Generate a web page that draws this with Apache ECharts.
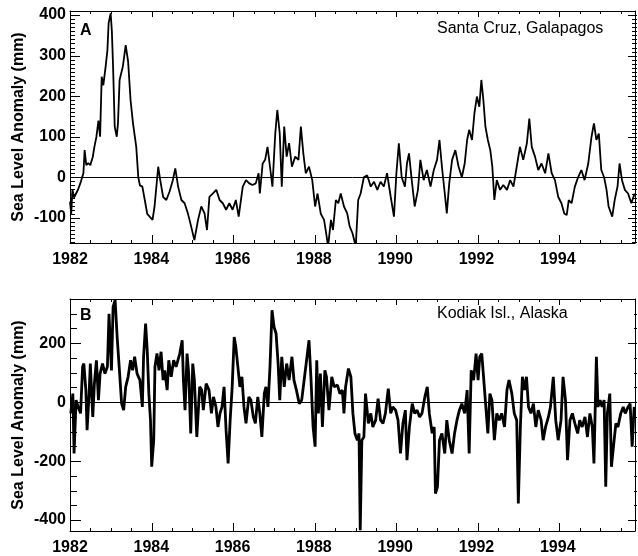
<!DOCTYPE html>
<html>
<head>
<meta charset="utf-8">
<script src="https://cdn.jsdelivr.net/npm/echarts@6/dist/echarts.min.js"></script>
<style>
  html, body { margin: 0; padding: 0; background: #fff; }
  #chart { width: 638px; height: 556px; }
</style>
</head>
<body>
<div id="chart"></div>
<script>
// Santa Cruz, Galapagos sea level anomaly (mm)
const galapagosYears = [
  1982.00,1982.03,1982.06,1982.10,1982.15,1982.20,1982.27,1982.33,1982.36,1982.40,
  1982.45,1982.50,1982.56,1982.60,1982.65,1982.70,1982.74,1982.78,1982.82,1982.88,
  1982.92,1982.95,1983.00,1983.03,1983.06,1983.10,1983.15,1983.18,1983.22,1983.30,
  1983.37,1983.43,1983.49,1983.55,1983.63,1983.68,1983.72,1983.78,1983.84,1983.90,
  1983.96,1984.03,1984.08,1984.17,1984.22,1984.29,1984.37,1984.45,1984.53,1984.59,
  1984.66,1984.74,1984.82,1984.90,1984.98,1985.06,1985.15,1985.23,1985.31,1985.37,
  1985.43,1985.51,1985.60,1985.68,1985.76,1985.84,1985.92,1986.00,1986.08,1986.15,
  1986.25,1986.33,1986.41,1986.49,1986.57,1986.64,1986.67,1986.74,1986.80,1986.86,
  1986.92,1986.98,1987.05,1987.10,1987.16,1987.21,1987.27,1987.33,1987.39,1987.46,
  1987.54,1987.62,1987.68,1987.74,1987.80,1987.88,1987.96,1988.03,1988.09,1988.17,
  1988.25,1988.29,1988.35,1988.42,1988.47,1988.54,1988.60,1988.66,1988.74,1988.82,
  1988.88,1988.95,1989.03,1989.09,1989.15,1989.23,1989.31,1989.40,1989.48,1989.56,
  1989.64,1989.72,1989.80,1989.89,1989.97,1990.03,1990.09,1990.16,1990.24,1990.29,
  1990.34,1990.40,1990.48,1990.56,1990.62,1990.70,1990.78,1990.87,1990.95,1991.03,
  1991.09,1991.15,1991.22,1991.27,1991.33,1991.40,1991.48,1991.56,1991.64,1991.71,
  1991.77,1991.82,1991.89,1991.95,1992.01,1992.07,1992.12,1992.17,1992.22,1992.28,
  1992.34,1992.39,1992.44,1992.50,1992.58,1992.66,1992.75,1992.83,1992.91,1992.99,
  1993.07,1993.15,1993.24,1993.30,1993.36,1993.44,1993.52,1993.60,1993.69,1993.77,
  1993.85,1993.93,1994.01,1994.09,1994.16,1994.22,1994.27,1994.34,1994.42,1994.50,
  1994.58,1994.66,1994.75,1994.83,1994.89,1994.95,1995.01,1995.07,1995.14,1995.20,
  1995.25,1995.34,1995.40,1995.47,1995.52,1995.58,1995.65,1995.73,1995.81,1995.89
];
const galapagosValues = [
  -60,-90,-30,-50,-40,-30,-10,10,67,30,
  35,30,50,75,100,140,100,248,227,276,
  313,380,404,360,272,125,100,133,240,273,
  326,285,190,133,75,0,-20,-23,-56,-90,
  -97,-105,-72,26,-7,-48,-56,-35,-7,22,
  -23,-56,-64,-89,-121,-155,-105,-72,-89,-130,
  -48,-40,-31,-56,-64,-80,-64,-80,-56,-97,
  -23,-7,-15,-19,-15,10,-40,34,43,75,
  26,-23,108,166,108,-23,125,51,84,26,
  51,43,125,59,10,26,-7,-72,-40,-90,
  -105,-130,-170,-105,-130,-56,-64,-40,-72,-89,
  -121,-138,-170,-56,-40,0,5,-23,-11,-31,
  -11,-23,10,-48,-97,10,84,0,-23,34,
  59,0,-72,-31,43,-7,18,-23,18,43,
  92,26,-40,-89,-15,43,67,26,0,34,
  92,117,92,158,199,174,240,190,125,92,
  67,26,-56,-7,-31,-19,-31,-7,-23,26,
  75,43,84,145,75,51,18,34,10,59,
  10,-7,-48,-64,-89,-93,-56,-64,-23,0,
  18,-7,34,100,133,92,108,18,0,-31,
  -72,-97,-56,-23,34,-7,-31,-40,-64,-40
];

// Kodiak Isl., Alaska sea level anomaly (mm)
const kodiakYears = [
  1982.02,1982.07,1982.10,1982.15,1982.20,1982.26,1982.31,1982.34,1982.39,1982.42,
  1982.47,1982.50,1982.56,1982.60,1982.65,1982.70,1982.74,1982.80,1982.86,1982.92,
  1982.96,1983.02,1983.06,1983.11,1983.16,1983.21,1983.27,1983.32,1983.37,1983.43,
  1983.49,1983.54,1983.59,1983.65,1983.72,1983.78,1983.81,1983.86,1983.90,1983.94,
  1983.98,1984.01,1984.06,1984.09,1984.14,1984.19,1984.24,1984.29,1984.33,1984.39,
  1984.43,1984.49,1984.55,1984.61,1984.70,1984.76,1984.79,1984.83,1984.88,1984.92,
  1984.97,1985.02,1985.06,1985.12,1985.19,1985.24,1985.28,1985.35,1985.42,1985.48,
  1985.53,1985.59,1985.64,1985.69,1985.74,1985.79,1985.84,1985.89,1985.94,1985.99,
  1986.04,1986.08,1986.13,1986.18,1986.23,1986.28,1986.33,1986.40,1986.45,1986.51,
  1986.56,1986.62,1986.67,1986.72,1986.78,1986.82,1986.87,1986.92,1986.97,1987.02,
  1987.07,1987.12,1987.16,1987.21,1987.27,1987.33,1987.39,1987.46,1987.51,1987.57,
  1987.64,1987.70,1987.76,1987.82,1987.88,1987.93,1987.98,1988.03,1988.07,1988.11,
  1988.16,1988.21,1988.27,1988.31,1988.37,1988.44,1988.50,1988.58,1988.64,1988.70,
  1988.74,1988.78,1988.85,1988.91,1988.96,1989.01,1989.07,1989.11,1989.14,1989.18,
  1989.23,1989.27,1989.34,1989.40,1989.45,1989.52,1989.58,1989.64,1989.70,1989.76,
  1989.83,1989.89,1989.94,1990.01,1990.07,1990.13,1990.19,1990.25,1990.29,1990.35,
  1990.42,1990.48,1990.54,1990.60,1990.66,1990.73,1990.79,1990.84,1990.91,1990.96,
  1990.99,1991.04,1991.09,1991.15,1991.22,1991.27,1991.33,1991.40,1991.46,1991.52,
  1991.58,1991.64,1991.71,1991.77,1991.82,1991.87,1991.93,1991.99,1992.04,1992.08,
  1992.13,1992.18,1992.23,1992.28,1992.33,1992.38,1992.44,1992.50,1992.56,1992.62,
  1992.69,1992.75,1992.80,1992.87,1992.93,1992.99,1993.03,1993.08,1993.13,1993.18,
  1993.23,1993.28,1993.34,1993.40,1993.46,1993.52,1993.59,1993.64,1993.70,1993.77,
  1993.82,1993.89,1993.95,1994.01,1994.08,1994.13,1994.19,1994.24,1994.30,1994.36,
  1994.42,1994.49,1994.54,1994.60,1994.67,1994.73,1994.79,1994.85,1994.89,1994.95,
  1994.99,1995.04,1995.09,1995.14,1995.18,1995.22,1995.28,1995.32,1995.37,1995.43,
  1995.48,1995.55,1995.61,1995.66,1995.73,1995.78,1995.83,1995.88
];
const kodiakValues = [
  -38,29,-174,7,-16,-38,120,131,41,-95,
  29,131,-50,63,142,7,97,131,97,120,
  300,108,323,346,221,120,-5,-27,52,86,
  142,108,154,97,75,-16,154,267,176,29,
  -61,-219,-129,120,165,108,171,75,108,41,
  142,86,142,120,165,210,75,-27,165,97,
  -106,131,75,-118,52,41,-27,63,41,-38,
  18,-16,-84,-38,-16,52,-95,-208,-61,52,
  221,187,120,52,86,-16,-72,18,7,-50,
  -72,18,-38,-118,29,52,-16,120,312,255,
  233,131,7,154,52,131,75,154,75,41,
  -5,7,75,142,210,75,-84,-151,142,-38,
  97,-84,108,86,-27,86,52,58,29,41,
  -38,52,114,86,-38,-106,-129,-106,-434,-129,
  -118,29,-72,-38,-84,-61,12,-61,-72,-38,
  46,-38,-16,-27,-61,-174,-72,-27,-197,-84,
  -5,-38,-27,-50,-38,18,52,-38,-106,-84,
  -310,-287,-129,-106,-174,-61,-129,-174,-106,-61,
  -27,-5,-38,41,-174,108,75,165,75,154,
  165,75,-16,-106,29,7,-129,-38,-61,-38,
  -84,41,75,29,-38,-61,-344,-84,86,41,
  86,-16,-38,-5,-84,-27,-61,-129,-84,-50,
  -16,86,-61,-129,-61,86,7,-197,-61,-38,
  -72,-106,-61,-84,-50,-118,-38,-84,-208,154,
  -16,7,-16,7,-287,-38,29,-219,-151,-72,
  -84,-38,-16,-38,-16,-5,-151,-16
];

// Tick labels
const yearLabels = [1982, 1984, 1986, 1988, 1990, 1992, 1994];
const galapagosLabels = [-100, 0, 100, 200, 300, 400];
const kodiakLabels = [-400, -200, 0, 200];

const X_MIN = 1982, X_MAX = 1995.9;
const FONT = 'Liberation Sans, Arial, Helvetica, sans-serif';
const LEFT = 70, WIDTH = 567;

function lineStyle() { return { color: '#000', width: 1 }; }
function range(a, b, step) {
  const out = [];
  for (let v = a; v <= b + 1e-9; v += step) out.push(Math.round(v * 1000) / 1000);
  return out;
}

// Panel layout: value range, pixel box, label spacing and tick lengths
const panels = [
  { min: -162, max: 410, top: 11, height: 232,
    labels: galapagosLabels, labelStep: 100,
    minorStep: 10, majorLen: [10, 9], minorLen: [5, 5] },
  { min: -437, max: 350, top: 299, height: 232,
    labels: kodiakLabels, labelStep: 200,
    minorStep: 50, majorLen: [11, 9], minorLen: [7, 3] }
];

const grids = [], xAxes = [], yAxes = [], mainIdx = [];

panels.forEach(p => {
  const gMain = grids.length;
  grids.push({ left: LEFT, width: WIDTH, top: p.top, height: p.height });
  // helper grid spanning exactly the labelled range, so labels start at a round value
  const s = p.height / (p.max - p.min);
  const lo = p.labels[0], hi = p.labels[p.labels.length - 1];
  const gLab = grids.length;
  grids.push({ left: LEFT, width: WIDTH, top: p.top + (p.max - hi) * s, height: (hi - lo) * s });

  const xMain = xAxes.length;
  xAxes.push({ type: 'value', gridIndex: gMain, min: X_MIN, max: X_MAX, interval: 2, position: 'bottom',
    splitLine: { show: false },
    axisLine: { show: true, onZero: false, lineStyle: lineStyle() },
    axisTick: { show: false },
    axisLabel: { show: true, margin: 9, color: '#000', fontSize: 16, fontWeight: 'bold', fontFamily: FONT,
      formatter: v => yearLabels.indexOf(Math.round(v * 100) / 100) >= 0 ? String(Math.round(v)) : '' } });
  xAxes.push({ type: 'value', gridIndex: gMain, min: X_MIN, max: X_MAX, position: 'top',
    splitLine: { show: false },
    axisLine: { show: true, onZero: false, lineStyle: lineStyle() },
    axisTick: { show: false }, axisLabel: { show: false } });
  xAxes.push({ type: 'value', gridIndex: gLab, min: 0, max: 1, show: false });

  const yMain = yAxes.length;
  yAxes.push({ type: 'value', gridIndex: gMain, min: p.min, max: p.max, position: 'left',
    name: 'Sea Level Anomaly (mm)', nameLocation: 'middle', nameGap: 43, nameRotate: 90,
    nameTextStyle: { color: '#000', fontSize: 16, fontWeight: 'bold', fontFamily: FONT },
    splitLine: { show: false },
    axisLine: { show: true, onZero: false, lineStyle: lineStyle() },
    axisTick: { show: false }, axisLabel: { show: false } });
  yAxes.push({ type: 'value', gridIndex: gMain, min: p.min, max: p.max, position: 'right',
    splitLine: { show: false },
    axisLine: { show: true, onZero: false, lineStyle: lineStyle() },
    axisTick: { show: false }, axisLabel: { show: false } });
  yAxes.push({ type: 'value', gridIndex: gLab, min: lo, max: hi, interval: p.labelStep, position: 'left',
    splitLine: { show: false },
    axisLine: { show: false, onZero: false }, axisTick: { show: false },
    axisLabel: { show: true, margin: 4, color: '#000', fontSize: 16, fontWeight: 'bold', fontFamily: FONT,
      formatter: v => p.labels.indexOf(v) >= 0 ? String(v) : '' } });

  mainIdx.push([xMain, yMain]);
});

function pairs(xs, ys) { return xs.map((x, i) => [x, ys[i]]); }

function zeroLine() {
  return {
    silent: true, symbol: ['none', 'none'], animation: false,
    label: { show: false },
    lineStyle: { color: '#000', width: 1, type: 'solid' },
    data: [{ yAxis: 0 }]
  };
}

const texts = [
  { type: 'text', x: 80, y: 31, style: { text: 'A', font: 'bold 16px ' + FONT, fill: '#000', textVerticalAlign: 'middle', verticalAlign: 'middle' } },
  { type: 'text', x: 437, y: 29, style: { text: 'Santa Cruz, Galapagos', font: '16px ' + FONT, fill: '#000', textVerticalAlign: 'middle', verticalAlign: 'middle' } },
  { type: 'text', x: 80, y: 316, style: { text: 'B', font: 'bold 16px ' + FONT, fill: '#000', textVerticalAlign: 'middle', verticalAlign: 'middle' } },
  { type: 'text', x: 437, y: 314, style: { text: 'Kodiak Isl., Alaska', font: '16px ' + FONT, fill: '#000', textVerticalAlign: 'middle', verticalAlign: 'middle' } }
];

// Inward tick marks on all four sides of each frame, from the same linear layout as the grids
function tickLine(x1, y1, x2, y2) {
  return { type: 'line', silent: true, z: 10,
    shape: { x1: x1, y1: y1, x2: x2, y2: y2 },
    style: { stroke: '#000', lineWidth: 1 } };
}
const ticks = [];
try {
  panels.forEach(p => {
    const sx = WIDTH / (X_MAX - X_MIN), sy = p.height / (p.max - p.min);
    const xl = LEFT, xr = LEFT + WIDTH, yt = p.top, yb = p.top + p.height;
    range(1982.5, 1995.5, 0.5).forEach(v => {
      const major = yearLabels.indexOf(v) >= 0;
      const x = Math.round(LEFT + (v - X_MIN) * sx) + 0.5;
      ticks.push(tickLine(x, yb, x, yb - (major ? 8 : 3)));
      ticks.push(tickLine(x, yt, x, yt + (major ? 6 : 3)));
    });
    const lo = Math.ceil(p.min / p.minorStep) * p.minorStep;
    range(lo, p.max - 1, p.minorStep).forEach(v => {
      const len = p.labels.indexOf(v) >= 0 ? p.majorLen : p.minorLen;
      const y = Math.round(yt + (p.max - v) * sy) + 0.5;
      ticks.push(tickLine(xl, y, xl + len[0], y));
      ticks.push(tickLine(xr, y, xr - len[1], y));
    });
  });
} catch (e) { /* keep the chart even if tick layout fails */ }

const chart = echarts.init(document.getElementById('chart'), null, { renderer: 'canvas' });
chart.setOption({
  animation: false,
  backgroundColor: '#fff',
  grid: grids,
  xAxis: xAxes,
  yAxis: yAxes,
  series: [
    {
      type: 'line', xAxisIndex: mainIdx[0][0], yAxisIndex: mainIdx[0][1],
      data: pairs(galapagosYears, galapagosValues),
      symbol: 'none', clip: true,
      lineStyle: { color: '#000', width: 1.8 },
      markLine: zeroLine()
    },
    {
      type: 'line', xAxisIndex: mainIdx[1][0], yAxisIndex: mainIdx[1][1],
      data: pairs(kodiakYears, kodiakValues),
      symbol: 'none', clip: true,
      lineStyle: { color: '#000', width: 2.8 },
      markLine: zeroLine()
    }
  ],
  graphic: texts.concat(ticks)
});
</script>
</body>
</html>
